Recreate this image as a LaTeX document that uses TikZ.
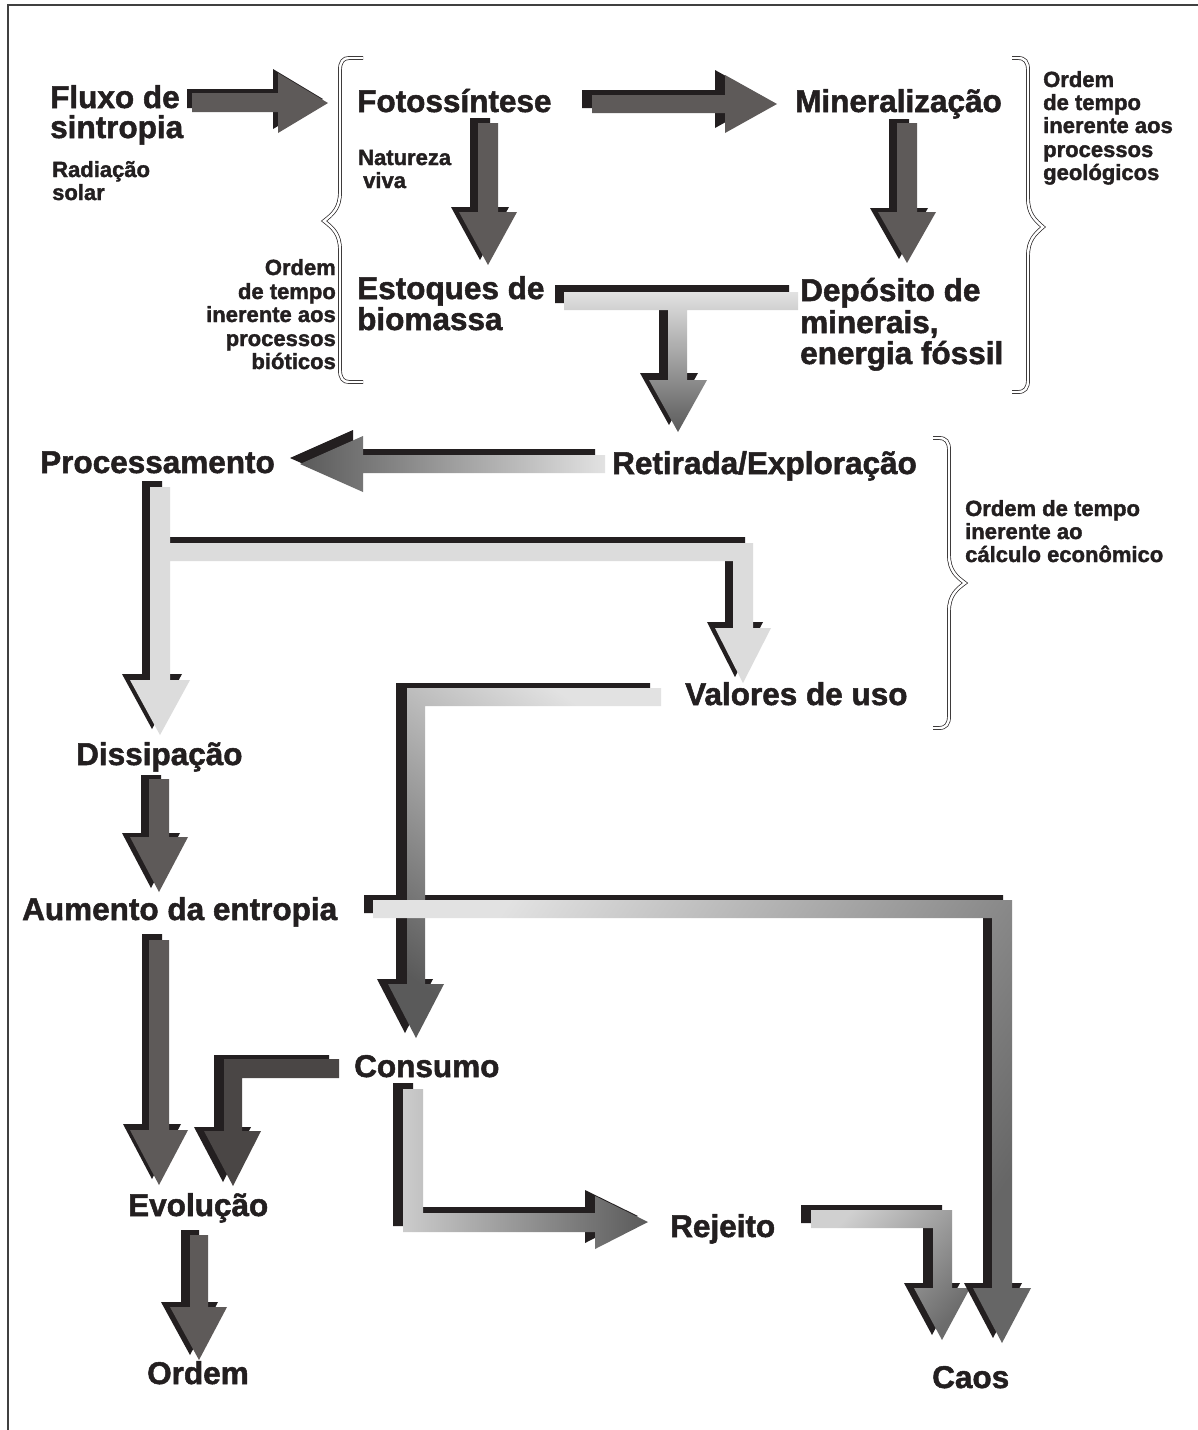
\documentclass[tikz,border=0pt]{standalone}
\usepackage{fontspec}
\setmainfont{Liberation Sans}[BoldFeatures={FakeBold=1.6}]
\definecolor{ink}{HTML}{231F20}
\definecolor{dg}{HTML}{5E5A59}
\definecolor{dgb}{HTML}{4A4645}
\definecolor{lg}{HTML}{DCDCDC}
\definecolor{gl}{HTML}{E2E2E2}
\definecolor{gd}{HTML}{5A5A5A}
\newcommand{\blockarrow}[3]{%
  \fill[ink, shift={#2}] #3;
  \path[#1] #3;
}
\tikzset{
  big/.style={font=\fontsize{31.5}{31.5}\selectfont\bfseries, text=ink, inner sep=0pt},
  small/.style={font=\fontsize{22}{22}\selectfont\bfseries, text=ink, inner sep=0pt},
  bracestyle/.style={draw=ink, line width=0.7pt, double=white, double distance=2.4pt},
  darkfill/.style={fill=dg},
}
\begin{document}
\begin{tikzpicture}[x=1pt,y=-1pt]
\useasboundingbox (0,0) rectangle (1198,1430);
\fill[white] (0,0) rectangle (1198,1430);
\draw[line width=1.6pt, draw=black!75] (8,1430) -- (8,5) -- (1198,5);

% ---------- texts ----------
\node[big, anchor=base west] (fluxoA) at (50,108) {Fluxo de};
\node[big, anchor=base west] (fluxoB) at (50,138) {sintropia};
\node[small, anchor=base west] (radA) at (52,177) {Radiação};
\node[small, anchor=base west] (radB) at (52,200) {solar};
\node[big, anchor=base west] (foto) at (357,112) {Fotossíntese};
\node[small, anchor=base west] (natA) at (358,165) {Natureza};
\node[small, anchor=base west] (natB) at (363,188) {viva};
\node[big, anchor=base west] (mineral) at (795,112) {Mineralização};
\node[big, anchor=base west] (estA) at (357,299) {Estoques de};
\node[big, anchor=base west] (estB) at (357,330) {biomassa};
\node[big, anchor=base west] (depA) at (800,301) {Depósito de};
\node[big, anchor=base west] (depB) at (800,333) {minerais,};
\node[big, anchor=base west] (depC) at (800,364) {energia fóssil};
\node[big, anchor=base west] (retirada) at (612,474) {Retirada/Exploração};
\node[big, anchor=base west] (process) at (40,473) {Processamento};
\node[big, anchor=base west] (valores) at (685,705) {Valores de uso};
\node[big, anchor=base west] (dissip) at (76,765) {Dissipação};
\node[big, anchor=base west] (aumento) at (22,920) {Aumento da entropia};
\node[big, anchor=base west] (consumo) at (354,1077) {Consumo};
\node[big, anchor=base west] (evolucao) at (128,1216) {Evolução};
\node[big, anchor=base west] (rejeito) at (670,1237) {Rejeito};
\node[big, anchor=base west] (ordem) at (147,1384) {Ordem};
\node[big, anchor=base west] (caos) at (932,1388) {Caos};

% left brace text (right aligned)
\node[small, anchor=base east] (bioA) at (336,275) {Ordem};
\node[small, anchor=base east] (bioB) at (336,299) {de tempo};
\node[small, anchor=base east] (bioC) at (336,322) {inerente aos};
\node[small, anchor=base east] (bioD) at (336,346) {processos};
\node[small, anchor=base east] (bioE) at (336,369) {bióticos};
% right brace 1 text
\node[small, anchor=base west] (geoA) at (1043,87) {Ordem};
\node[small, anchor=base west] (geoB) at (1043,110) {de tempo};
\node[small, anchor=base west] (geoC) at (1043,133) {inerente aos};
\node[small, anchor=base west] (geoD) at (1043,157) {processos};
\node[small, anchor=base west] (geoE) at (1043,180) {geológicos};
% right brace 2 text
\node[small, anchor=base west] (ecoA) at (965,516) {Ordem de tempo};
\node[small, anchor=base west] (ecoB) at (965,539) {inerente ao};
\node[small, anchor=base west] (ecoC) at (965,562) {cálculo econômico};

% ---------- braces ----------
\draw[bracestyle] (363,58) -- (349,58) .. controls (343,58) and (340,62) .. (340,70) -- (340,192)
  .. controls (340,208) and (333,214) .. (324,221) .. controls (333,228) and (340,234) .. (340,250)
  -- (340,370) .. controls (340,378) and (343,382) .. (349,382) -- (363,382);
\draw[bracestyle] (1012,58) -- (1018,58) .. controls (1025,58) and (1028,62) .. (1028,70) -- (1028,198)
  .. controls (1028,214) and (1035,220) .. (1043,227) .. controls (1035,234) and (1028,240) .. (1028,256)
  -- (1028,380) .. controls (1028,388) and (1025,392) .. (1018,392) -- (1012,392);
\draw[bracestyle] (933,438) -- (939,438) .. controls (946,438) and (949,442) .. (949,450) -- (949,555)
  .. controls (949,571) and (957,577) .. (965,583) .. controls (957,589) and (949,595) .. (949,611)
  -- (949,716) .. controls (949,724) and (946,728) .. (939,728) -- (933,728);

% ---------- arrows ----------
% Fluxo -> Fotossintese
\blockarrow{darkfill}{(-5,-4)}{(192,93) -- (278,93) -- (278,73) -- (328,103) -- (278,133) -- (278,112) -- (192,112) -- cycle}
% Fotossintese -> Mineralizacao
\blockarrow{darkfill}{(-10,-5)}{(592,95) -- (725,95) -- (725,75) -- (777,104) -- (725,133) -- (725,113) -- (592,113) -- cycle}
% Fotossintese -> Estoques
\blockarrow{darkfill}{(-8,-5)}{(478,123) -- (498,123) -- (498,212) -- (517,212) -- (488,265) -- (459,212) -- (478,212) -- cycle}
% Mineralizacao -> Deposito
\blockarrow{darkfill}{(-8,-4)}{(897,123) -- (917,123) -- (917,212) -- (936,212) -- (907,263) -- (878,212) -- (897,212) -- cycle}
% T : Estoques + Deposito -> Retirada
\blockarrow{top color=gl, bottom color=gd}{(-9,-7)}{(564,292) -- (798,292) -- (798,310) -- (687,310) -- (687,380) -- (707,380) -- (678,432) -- (649,380) -- (668,380) -- (668,310) -- (564,310) -- cycle}
% Retirada -> Processamento
\blockarrow{left color=gd, right color=gl}{(-10,-6)}{(605,455) -- (363,455) -- (363,436) -- (300,464) -- (363,492) -- (363,473) -- (605,473) -- cycle}
% Processamento -> Dissipacao + Valores de uso
\blockarrow{fill=lg}{(-8,-6)}{(150,487) -- (170,487) -- (170,543) -- (753,543) -- (753,628) -- (771,628) -- (743,683) -- (715,628) -- (733,628) -- (733,561) -- (170,561) -- (170,680) -- (190,680) -- (160,735) -- (130,680) -- (150,680) -- cycle}
% Dissipacao -> Aumento
\blockarrow{darkfill}{(-8,-4)}{(149,779) -- (169,779) -- (169,837) -- (188,837) -- (159,892) -- (130,837) -- (149,837) -- cycle}
% Aumento -> Evolucao
\blockarrow{darkfill}{(-7,-6)}{(149,940) -- (169,940) -- (169,1130) -- (188,1130) -- (159,1185) -- (130,1130) -- (149,1130) -- cycle}
% Consumo -> Evolucao
\blockarrow{fill=dgb}{(-10,-4)}{(339,1059) -- (339,1078) -- (242,1078) -- (242,1131) -- (261,1131) -- (233,1186) -- (204,1131) -- (224,1131) -- (224,1059) -- cycle}
% Evolucao -> Ordem
\blockarrow{darkfill}{(-9,-5)}{(190,1235) -- (208,1235) -- (208,1307) -- (227,1307) -- (199,1360) -- (170,1307) -- (190,1307) -- cycle}
% Consumo -> Rejeito
\blockarrow{left color=gl!90!black, right color=gd}{(-10,-6)}{(403,1089) -- (423,1089) -- (423,1213) -- (595,1213) -- (595,1196) -- (648,1222) -- (595,1249) -- (595,1232) -- (403,1232) -- cycle}
% Rejeito -> Caos
\blockarrow{top color=gl!92!black, bottom color=gray!85!black, shading angle=47}{(-10,-5)}{(811,1210) -- (952,1210) -- (952,1288) -- (970,1288) -- (942,1340) -- (914,1288) -- (933,1288) -- (933,1228) -- (811,1228) -- cycle}
% Aumento -> Caos (shadow first), Valores -> Consumo, then Aumento fill
\fill[ink, shift={(-9,-5)}] (373,900) -- (1012,900) -- (1012,1288) -- (1031,1288) -- (1002,1343) -- (973,1288) -- (992,1288) -- (992,918) -- (373,918) -- cycle;
\blockarrow{top color=gl, bottom color=gd, shading angle=-36}{(-11,-5)}{(661,688) -- (661,706) -- (425,706) -- (425,984) -- (444,984) -- (416,1038) -- (388,984) -- (407,984) -- (407,688) -- cycle}
\path[top color=gl, bottom color=gray!80!black, shading angle=55] (373,900) -- (1012,900) -- (1012,1288) -- (1031,1288) -- (1002,1343) -- (973,1288) -- (992,1288) -- (992,918) -- (373,918) -- cycle;
\end{tikzpicture}
\end{document}
